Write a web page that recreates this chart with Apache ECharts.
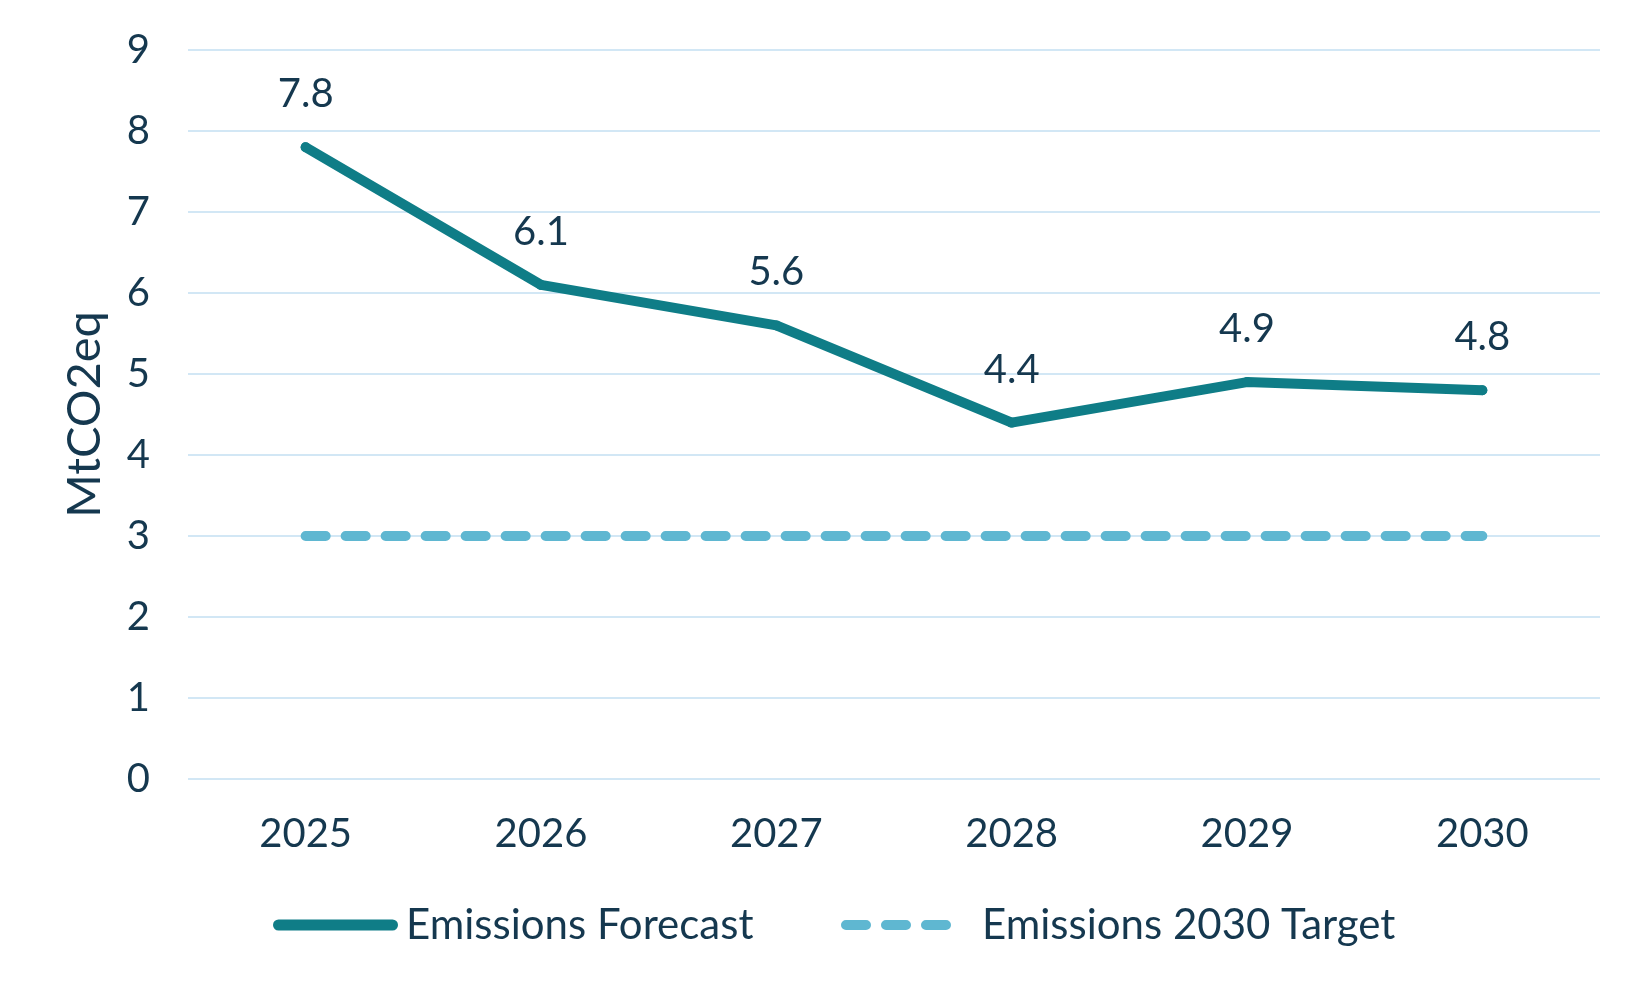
<!DOCTYPE html>
<html>
<head>
<meta charset="utf-8">
<script src="https://cdn.jsdelivr.net/npm/echarts@6/dist/echarts.min.js"></script>
<style>
html,body{margin:0;padding:0;background:#fff;}
#chart{width:1650px;height:990px;}
</style>
</head>
<body>
<div id="chart"></div>
<script>
const years = ['2025','2026','2027','2028','2029','2030'];
const forecast = [7.8, 6.1, 5.6, 4.4, 4.9, 4.8];
const target = [3, 3, 3, 3, 3, 3];
const seriesNames = ['Emissions Forecast', 'Emissions 2030 Target'];
const yAxisName = 'MtCO2eq';

const textColor = '#15384f';
const lineColor = '#0f7d87';
const targetColor = '#5fb7d1';
const font = 'Lato';

const solidIcon = 'path://M5.5,0H119.5A5.5,5.5,0,0,1,119.5,11H5.5A5.5,5.5,0,0,1,5.5,0Z';
const dashIcon = 'path://M5,0H25A5,5,0,0,1,25,10H5A5,5,0,0,1,5,0Z' +
                 'M45,0H65A5,5,0,0,1,65,10H45A5,5,0,0,1,45,0Z' +
                 'M85,0H105A5,5,0,0,1,105,10H85A5,5,0,0,1,85,0Z';

const chart = echarts.init(document.getElementById('chart'));
chart.setOption({
  animation: false,
  backgroundColor: '#ffffff',
  textStyle: { fontFamily: font, color: textColor },
  grid: { left: 188, right: 50, top: 50, bottom: 211 },
  legend: [
    {
      data: [{ name: seriesNames[0], icon: solidIcon }],
      left: 268, top: 899,
      itemWidth: 125, itemHeight: 11,
      itemStyle: { borderWidth: 0 },
      textStyle: { fontFamily: font, fontSize: 42, color: textColor, padding: [0, 0, 0, 3] }
    },
    {
      data: [{ name: seriesNames[1], icon: dashIcon }],
      left: 836, top: 899,
      itemWidth: 110, itemHeight: 10,
      itemStyle: { borderWidth: 0 },
      textStyle: { fontFamily: font, fontSize: 42, color: textColor, padding: [0, 0, 0, 26] }
    }
  ],
  xAxis: {
    type: 'category',
    data: years,
    boundaryGap: true,
    axisLine: { show: false },
    axisTick: { show: false },
    axisLabel: { fontFamily: font, fontSize: 40, color: textColor, margin: 35 }
  },
  yAxis: {
    type: 'value',
    min: 0, max: 9, interval: 1,
    name: yAxisName,
    nameLocation: 'middle',
    nameGap: 80,
    nameTextStyle: { fontFamily: font, fontSize: 47, color: textColor },
    axisLine: { show: false },
    axisTick: { show: false },
    axisLabel: { fontFamily: font, fontSize: 40, color: textColor, margin: 38 },
    splitLine: { show: true, lineStyle: { color: '#d2e7f5', width: 2 } }
  },
  series: [
    {
      name: seriesNames[0],
      type: 'line',
      data: forecast,
      symbol: 'circle',
      symbolSize: 10,
      itemStyle: { color: lineColor },
      color: lineColor,
      lineStyle: { width: 10, color: lineColor, cap: 'round', join: 'round' },
      label: {
        show: true, position: 'top', distance: 28,
        fontFamily: font, fontSize: 40, color: textColor
      },
      z: 3
    },
    {
      name: seriesNames[1],
      type: 'line',
      data: target,
      symbol: 'none',
      color: targetColor,
      itemStyle: { color: targetColor },
      lineStyle: { width: 10, color: targetColor, type: [20, 20], cap: 'round' },
      z: 2
    }
  ]
});
</script>
</body>
</html>
